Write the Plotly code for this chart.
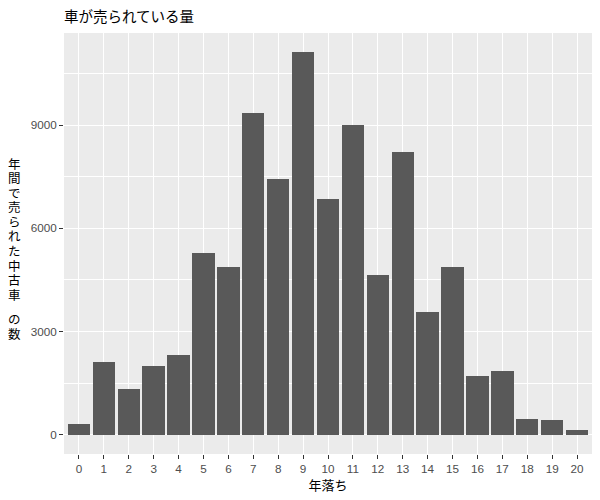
import plotly.graph_objects as go

# 年落ち (years old) and cars sold per year
years = list(range(21))
counts = [330, 2120, 1320, 1990, 2330, 5290, 4890, 9350, 7440, 11120,
          6860, 9010, 4650, 8220, 3580, 4890, 1700, 1870, 450, 420, 130]

title_text = "車が売られている量"
x_title = "年落ち"
y_title = "年間で売られた中古車 の数"

fnt = "Liberation Sans, Noto Sans CJK JP"
jp = "Noto Sans CJK JP"

fig = go.Figure()
fig.add_trace(go.Bar(x=years, y=counts, width=0.9,
                     marker=dict(color="#595959", line=dict(width=0))))

# the page body has an 8px default margin, so the figure is made 8px smaller
ymax = max(counts)
fig.update_layout(
    width=592, height=492,
    paper_bgcolor="white", plot_bgcolor="#EBEBEB",
    margin=dict(l=56, r=8, t=25, b=46),
    showlegend=False,
    font=dict(family=fnt, color="#4D4D4D"),
    title=dict(text=title_text, x=56 / 592, xanchor="left", y=1 - 9 / 492, yanchor="middle",
               font=dict(size=14.5, color="black", family=jp)),
    bargap=0,
)
fig.update_xaxes(
    range=[-0.6, 20.6], tickmode="array", tickvals=years, ticktext=[str(v) for v in years],
    showgrid=True, gridcolor="white", gridwidth=1.1, zeroline=False, automargin=False,
    ticks="outside", ticklen=4, tickcolor="#333333", tickfont=dict(size=11.7, color="#4D4D4D"),
    title=dict(text=x_title, font=dict(size=13, color="black", family=jp), standoff=2),
)
fig.update_yaxes(
    range=[-0.05 * ymax, 1.05 * ymax], tickvals=[0, 3000, 6000, 9000],
    showgrid=True, gridcolor="white", gridwidth=1.1, zeroline=False, automargin=False,
    minor=dict(tickvals=[1500, 4500, 7500, 10500], showgrid=True, gridcolor="white", gridwidth=0.5),
    ticks="outside", ticklen=4, tickcolor="#333333", tickfont=dict(size=11.7, color="#4D4D4D"),
)

# vertical y-axis title, one character per line (ggplot style)
step, gap = 14.6, 9.5
pix = 163.0
panel_top, panel_h = 33, 421
for ch in y_title:
    if ch == " ":
        pix += gap
        continue
    fig.add_annotation(
        text=ch, xref="paper", yref="paper",
        x=-50 / 528, y=(panel_top + panel_h - pix) / panel_h,
        xanchor="center", yanchor="middle", showarrow=False,
        font=dict(size=12.5, color="black", family=jp),
    )
    pix += step

fig.write_html("out.html")
